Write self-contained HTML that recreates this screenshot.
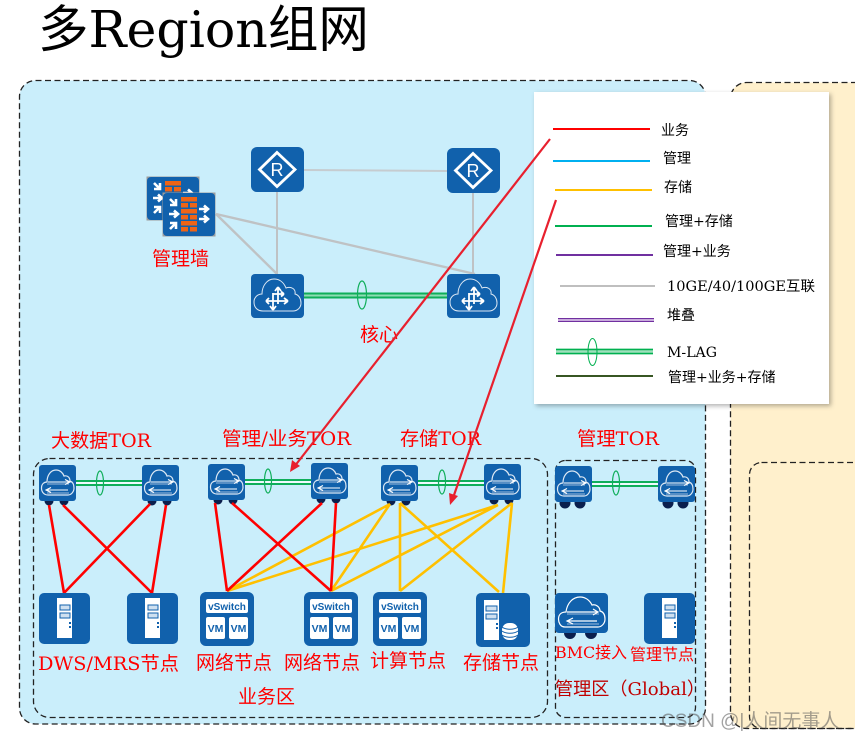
<!DOCTYPE html>
<html lang="zh">
<head>
<meta charset="utf-8">
<title>多Region组网</title>
<style>
html,body{margin:0;padding:0;background:#fff;width:855px;height:741px;overflow:hidden}
svg{display:block}
text{font-family:"DejaVu Serif","WenQuanYi Zen Hei","Noto Sans CJK SC",serif}
.r{fill:#f00;font-size:19px}
.k{fill:#000;font-size:14px}
.ic{font-family:"Liberation Sans",sans-serif;font-weight:bold;fill:#1161ac;text-anchor:middle}
</style>
</head>
<body>
<svg xmlns="http://www.w3.org/2000/svg" width="855" height="741" viewBox="0 0 855 741">
<defs>
  <filter id="sh" x="-5%" y="-5%" width="112%" height="112%"><feDropShadow dx="2" dy="2" stdDeviation="2.5" flood-color="#000" flood-opacity=".3"/></filter>
  <g id="cloudL"><path d="M12 37C6 37 3 33 3 28C3 23 7 20 11 20C11 12 16 5 23 5C29 5 33 9 35 14C40 12 45 15 44 20C48 21 50 25 50 29C50 34 46 37 42 37Z" fill="none" stroke="#dce8f4" stroke-width="1"/></g>
  <g id="router"><rect width="53" height="45" rx="6" fill="#1161ac"/><path d="M26 5.500L44 22.500L26 39.500L8.500 22.500Z" fill="none" stroke="#fff" stroke-width="2.800"/><text x="26" y="29" font-size="18" fill="#fff" text-anchor="middle" style="font-family:'Liberation Sans',sans-serif">R</text></g>
  <g id="core"><rect width="53" height="44" rx="4" fill="#1161ac"/><use href="#cloudL"/><path d="M27 13V30M22 19V36M15 27H37M27 13L24 17M27 13L30 17M22 36L19 32M22 36L25 32M37 27L33 24M37 27L33 30M15 27L18 24M15 27L18 30M22 20H33M33 20L30 17.500M33 20L30 22.500" stroke="#fff" stroke-width="1.800" fill="none"/></g>
  <g id="tor"><circle cx="10" cy="36" r="4.500" fill="#0a1f4d"/><circle cx="25" cy="36" r="4.500" fill="#0a1f4d"/><rect width="37" height="36" rx="3" fill="#1161ac"/><path d="M9 30C5 30 2.500 27 2.500 23C2.500 19 5 17 8 17C8 10 12 5 17 5C21 5 24 8 25 11C29 10 31 13 31 16C34 17 35 20 35 23C35 27 32 30 29 30Z" fill="none" stroke="#dce8f4" stroke-width="1.200"/><path d="M8 19H30M8 28H30" stroke="#9dbbdc" stroke-width="1"/><path d="M9 17H30M26 14.500L31 17L26 19.500M8 25H29M12 22.500L7 25L12 27.500" stroke="#fff" stroke-width="1.100" fill="none"/></g>
  <g id="torM"><circle cx="10" cy="37" r="5.500" fill="#0a1f4d"/><circle cx="25" cy="37" r="5.500" fill="#0a1f4d"/><use href="#tor"/></g>
  <g id="server"><rect width="51" height="51" rx="5" fill="#1161ac"/><rect x="18" y="5" width="15" height="40" fill="#fff"/><rect x="21" y="12" width="10" height="5" fill="#cfe0f0" stroke="#1161ac" stroke-width="1"/><rect x="21" y="20" width="10" height="5" fill="#cfe0f0" stroke="#1161ac" stroke-width="1"/><rect x="30" y="29" width="2" height="2" fill="#1161ac"/><rect x="30" y="33" width="2" height="2" fill="#1161ac"/></g>
  <g id="vm"><rect width="54" height="54" rx="6" fill="#1161ac"/><rect x="6" y="7" width="42" height="14" rx="2" fill="#fff"/><rect x="6" y="25" width="19" height="22" rx="2" fill="#fff"/><rect x="29" y="25" width="19" height="22" rx="2" fill="#fff"/></g>
  <g id="store"><rect width="54" height="54" rx="5" fill="#1161ac"/><rect x="8" y="7" width="15" height="40" fill="#fff"/><rect x="10" y="13" width="11" height="5" fill="#cfe0f0" stroke="#1161ac"/><rect x="10" y="21" width="11" height="5" fill="#cfe0f0" stroke="#1161ac"/><rect x="20" y="30" width="2" height="2" fill="#1161ac"/><rect x="20" y="34" width="2" height="2" fill="#1161ac"/><rect x="26" y="30" width="16" height="17" rx="7" fill="#fff"/><path d="M26 34C30 37 38 37 42 34M26 38C30 41 38 41 42 38M26 42C30 45 38 45 42 42" fill="none" stroke="#1161ac" stroke-width="1"/></g>
  <g id="fw"><rect x=".5" y=".5" width="53" height="44" fill="#9c9c9c"/><rect x="1" y="1" width="52" height="43" rx="4" fill="#1161ac"/><g fill="#ef6416"><rect x="19" y="5" width="16" height="4.500"/><rect x="19" y="11" width="7" height="4.500"/><rect x="28" y="11" width="7" height="4.500"/><rect x="19" y="17" width="16" height="4.500"/><rect x="19" y="23" width="7" height="4.500"/><rect x="28" y="23" width="7" height="4.500"/><rect x="19" y="29" width="16" height="4.500"/><rect x="19" y="35" width="7" height="4.500"/><rect x="28" y="35" width="7" height="4.500"/></g><g stroke="#fff" stroke-width="2.600" fill="none"><path d="M8 7L13 12M14 7V13H8M7 22H15M12 18.500L16 22L12 25.500M8 37L13 32M8 31H14V37M37 17H45M42 13.500L46 17L42 20.500M37 27H45M42 23.500L46 27L42 30.500"/></g></g>
</defs>

<text x="38" y="47" font-size="50.500" fill="#000">多Region组网</text>

<g stroke="#222" stroke-width="1.300" stroke-dasharray="6 3.500">
<rect x="19.500" y="80.500" width="686" height="643.500" rx="16" fill="#caeefb"/>
<rect x="730.500" y="82.500" width="200" height="646" rx="16" fill="#fff0cc"/>
<rect x="749.500" y="462.500" width="200" height="266" rx="12" fill="none"/>
<rect x="33.500" y="458.500" width="514" height="259" rx="16" fill="none"/>
<rect x="555.500" y="460.500" width="140" height="257" rx="10" fill="none"/>
</g>

<!-- gray core links -->
<g stroke="#bfc2c4" stroke-width="2" fill="none">
  <path d="M304 170L447 171" stroke="#c6ccd0"/>
  <path d="M277 192V274M473 193V274"/>
  <path d="M216 214L277 274" stroke-width="2.400"/>
  <path d="M216 214L475 274" stroke-width="2.400"/>
</g>
<!-- core m-lag -->
<path d="M304 295.500H447" stroke="#8fdcb4" stroke-width="6" fill="none"/>
<g stroke="#0fae5a" fill="none">
  <path d="M304 293.500H447M304 297.500H447" stroke-width="2"/>
  <ellipse cx="362" cy="295" rx="4.500" ry="14" stroke-width="1.200"/>
</g>

<!-- tor m-lag -->
<path d="M76 483H142M245 482H311M418 483H484M592 484H658" stroke="#fff" stroke-width="4" fill="none" opacity=".7"/>
<g stroke="#0fae5a" fill="none" stroke-width="2">
  <path d="M76 481H142M76 485H142M245 480H311M245 484H311M418 481H484M418 485H484M592 482H658M592 486H658"/>
  <g stroke-width="1.200"><ellipse cx="100" cy="483" rx="3.500" ry="12"/><ellipse cx="268" cy="481" rx="3.500" ry="12"/><ellipse cx="442" cy="482" rx="3.500" ry="12"/><ellipse cx="616" cy="483" rx="3.500" ry="12"/></g>
</g>

<!-- icons that sit beneath links -->
<use href="#tor" x="39" y="465"/><use href="#tor" x="142" y="465"/>
<use href="#tor" x="208" y="464"/><use href="#tor" x="311" y="463"/>
<use href="#tor" x="381" y="465"/><use href="#tor" x="484" y="464"/>
<use href="#torM" x="555" y="466"/><use href="#torM" x="658" y="466"/>

<!-- yellow -->
<g stroke="#ffc000" stroke-width="2.600" fill="none">
  <path d="M227 591L390 504M227 591L498 505M331 591L390 504M331 591L498 505M400 503V591M512 503L400 591M400 503L499 592M512 503L503 593"/>
</g>
<!-- red -->
<g stroke="#f00" stroke-width="2.600" fill="none">
  <path d="M49 505L64 593M63 505L152 593M150 504L64 593M166 505L152 593M215 503L227 591M232 503L331 591M322 503L227 591M336 503L331 591"/>
</g>

<!-- icons -->
<use href="#router" x="251" y="147"/><use href="#router" x="447" y="148"/>
<use href="#core" x="251" y="274"/><use href="#core" x="447" y="274"/>
<use href="#fw" x="146" y="176"/><use href="#fw" x="162" y="192"/>
<use href="#server" x="39" y="593"/><use href="#server" x="127" y="593"/><use href="#server" x="644" y="593"/>
<use href="#vm" x="200" y="592"/><use href="#vm" x="304" y="592"/><use href="#vm" x="373" y="592"/>
<use href="#store" x="476" y="593"/>
<g transform="translate(555 593)"><circle cx="15" cy="40" r="6" fill="#0a1f4d"/><circle cx="36" cy="40" r="6" fill="#0a1f4d"/><rect width="53" height="40" rx="4" fill="#1161ac"/><path d="M10 34C5 34 3.500 29 3.500 26C3.500 21 7 19 11 19C12 10 18 4 25 4C31 4 35 8 37 12C41 11 45 14 45 18C49 19 50 23 50 26C50 31 46 34 43 34Z" fill="none" stroke="#fff" stroke-width="1.200"/><path d="M12 21H44M12 31H44" stroke="#9dbbdc"/><path d="M12 19H42M38 16L43 19L38 22M13 28H42M18 25L12 28L18 31" stroke="#fff" stroke-width="1.200" fill="none"/></g>

<g font-size="10.500">
  <text class="ic" x="227" y="610" style="font-size:10px">vSwitch</text><text class="ic" x="331" y="610" style="font-size:10px">vSwitch</text><text class="ic" x="400" y="610" style="font-size:10px">vSwitch</text>
  <text class="ic" x="215.500" y="632">VM</text><text class="ic" x="238.500" y="632">VM</text>
  <text class="ic" x="319.500" y="632">VM</text><text class="ic" x="342.500" y="632">VM</text>
  <text class="ic" x="388.500" y="632">VM</text><text class="ic" x="411.500" y="632">VM</text>
</g>

<!-- red labels -->
<text class="r" x="152" y="265">管理墙</text>
<text class="r" x="360" y="341">核心</text>
<text class="r" x="51" y="447" textLength="100" lengthAdjust="spacingAndGlyphs">大数据TOR</text>
<text class="r" x="222" y="445" textLength="129" lengthAdjust="spacingAndGlyphs">管理/业务TOR</text>
<text class="r" x="400" y="445" textLength="81" lengthAdjust="spacingAndGlyphs">存储TOR</text>
<text class="r" x="577" y="445" textLength="82" lengthAdjust="spacingAndGlyphs">管理TOR</text>
<text class="r" x="38" y="670" textLength="141" lengthAdjust="spacingAndGlyphs">DWS/MRS节点</text>
<text class="r" x="196" y="669">网络节点</text>
<text class="r" x="284" y="669">网络节点</text>
<text class="r" x="370" y="667">计算节点</text>
<text class="r" x="463" y="669">存储节点</text>
<text class="r" x="238" y="703">业务区</text>
<text class="r" x="555" y="658" style="font-size:16px" textLength="72" lengthAdjust="spacingAndGlyphs">BMC接入</text>
<text class="r" x="630" y="660" style="font-size:16px">管理节点</text>
<text x="555" y="695" font-size="18" fill="#c00000" textLength="150" lengthAdjust="spacingAndGlyphs">管理区（Global）</text>

<!-- legend -->
<rect x="534" y="92" width="295" height="312" fill="#fff" filter="url(#sh)"/>
<g fill="none" stroke-width="2">
  <path d="M553 129H650" stroke="#f00"/>
  <path d="M553 161H650" stroke="#00b0f0"/>
  <path d="M555 190H652" stroke="#ffc000"/>
  <path d="M555 226H652" stroke="#00b050"/>
  <path d="M556 255H653" stroke="#7030a0"/>
  <path d="M560 286H655" stroke="#bfbfbf"/>
  <path d="M558 320H654" stroke="#c9abdc" stroke-width="4"/>
  <path d="M558 318.500H654M558 321.500H654" stroke="#7030a0" stroke-width="1"/>
  <path d="M556 351.500H653" stroke="#9fe0bc" stroke-width="6"/>
  <path d="M556 349.500H653M556 353.500H653" stroke="#00b050" stroke-width="1.500"/>
  <ellipse cx="592.500" cy="352" rx="4.500" ry="13.500" stroke="#00b050" stroke-width="1"/>
  <path d="M556 376H653" stroke="#375623"/>
</g>
<text class="k" x="661" y="135">业务</text>
<text class="k" x="663" y="163">管理</text>
<text class="k" x="664" y="192">存储</text>
<text class="k" x="665" y="226">管理+存储</text>
<text class="k" x="663" y="256">管理+业务</text>
<text class="k" x="667" y="291" textLength="148" lengthAdjust="spacingAndGlyphs">10GE/40/100GE互联</text>
<text class="k" x="667" y="320">堆叠</text>
<text class="k" x="667" y="357" textLength="50" lengthAdjust="spacingAndGlyphs">M-LAG</text>
<text class="k" x="668" y="382">管理+业务+存储</text>

<!-- red arrows -->
<g stroke="#e8202e" stroke-width="2.200" fill="none">
  <path d="M550 139L294 467"/>
  <path d="M556 200L453 498"/>
</g>
<path d="M290 472L292 460L300 466Z" fill="#e8202e"/>
<path d="M450 505L449 493L458 496Z" fill="#e8202e"/>

<!-- watermark -->
<text x="661" y="727" font-size="19" fill="#555" fill-opacity=".55" style="font-family:'Liberation Sans','WenQuanYi Zen Hei',sans-serif">CSDN @|人间无事人</text>
</svg>
</body>
</html>
